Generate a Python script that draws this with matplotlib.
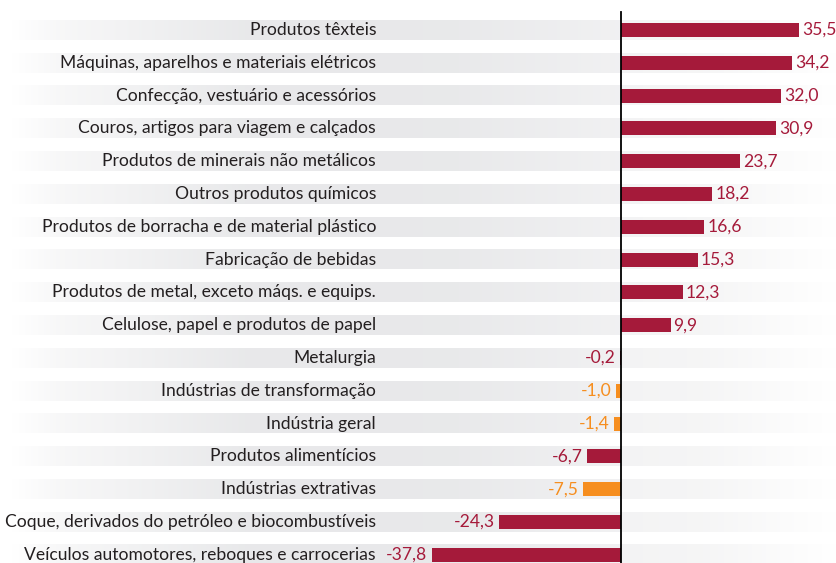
import numpy as np
import matplotlib
matplotlib.use("Agg")
import matplotlib.pyplot as plt

categories = [
    "Produtos têxteis",
    "Máquinas, aparelhos e materiais elétricos",
    "Confecção, vestuário e acessórios",
    "Couros, artigos para viagem e calçados",
    "Produtos de minerais não metálicos",
    "Outros produtos químicos",
    "Produtos de borracha e de material plástico",
    "Fabricação de bebidas",
    "Produtos de metal, exceto máqs. e equips.",
    "Celulose, papel e produtos de papel",
    "Metalurgia",
    "Indústrias de transformação",
    "Indústria geral",
    "Produtos alimentícios",
    "Indústrias extrativas",
    "Coque, derivados do petróleo e biocombustíveis",
    "Veículos automotores, reboques e carrocerias",
]
values = [35.5, 34.2, 32.0, 30.9, 23.7, 18.2, 16.6, 15.3, 12.3, 9.9,
          -0.2, -1.0, -1.4, -6.7, -7.5, -24.3, -37.8]
highlight = ["Indústrias de transformação", "Indústria geral", "Indústrias extrativas"]

RED = "#A51A3A"
ORANGE = "#F68E1F"

plt.rcParams['font.family'] = ['Lato', 'DejaVu Sans']

W, H = 836, 563
fig = plt.figure(figsize=(W / 100, H / 100), dpi=100)
ax = fig.add_axes([0, 0, 1, 1])

zero_px = 621.0
ppu = 5.01
xmin = -zero_px / ppu
xmax = (W - zero_px) / ppu
row0 = 30.0
rowsp = 32.8
ytop = -row0 / rowsp
ybot = (H - row0) / rowsp
ax.set_xlim(xmin, xmax)
ax.set_ylim(ybot, ytop)
ax.axis("off")

# gradient bands
xs_px = np.array([12, 60, 250, 450, 620, 622, 700, 836])
cols = np.array([
    [1.00, 1.00, 1.00],
    [0.970, 0.970, 0.972],
    [0.910, 0.912, 0.918],
    [0.912, 0.914, 0.920],
    [0.945, 0.945, 0.950],
    [0.955, 0.955, 0.958],
    [0.962, 0.962, 0.964],
    [1.00, 1.00, 1.00],
])
grid_px = np.linspace(12, 836, 824)
grad = np.stack([np.interp(grid_px, xs_px, cols[:, k]) for k in range(3)], axis=-1)
grad_img = grad[np.newaxis, :, :]
bx0 = (12 - zero_px) / ppu
bh = 0.30
for i in range(len(categories)):
    ax.imshow(grad_img, extent=(bx0, xmax, i + bh, i - bh), aspect="auto",
              interpolation="bilinear", zorder=0)

ys = np.arange(len(categories))
colors = [ORANGE if c in highlight else RED for c in categories]
ax.barh(ys, values, height=0.43, color=colors, zorder=2)

ax.plot([0, 0], [(12 - row0) / rowsp, ybot], color="black", lw=1.3, zorder=3)

FS = 12.6
label_x = (376 - zero_px) / ppu
for y, c, v, col in zip(ys, categories, values, colors):
    ax.text(label_x, y, c, ha="right", va="center", fontsize=FS, color="#231F20", zorder=4)
    s = f"{v:.1f}".replace(".", ",")
    if v >= 0:
        ax.text(v + 0.6, y, s, ha="left", va="center", fontsize=FS, color=col, zorder=4)
    else:
        ax.text(v - 0.9, y, s, ha="right", va="center", fontsize=FS, color=col, zorder=4)

fig.savefig("out.png", dpi=100)
